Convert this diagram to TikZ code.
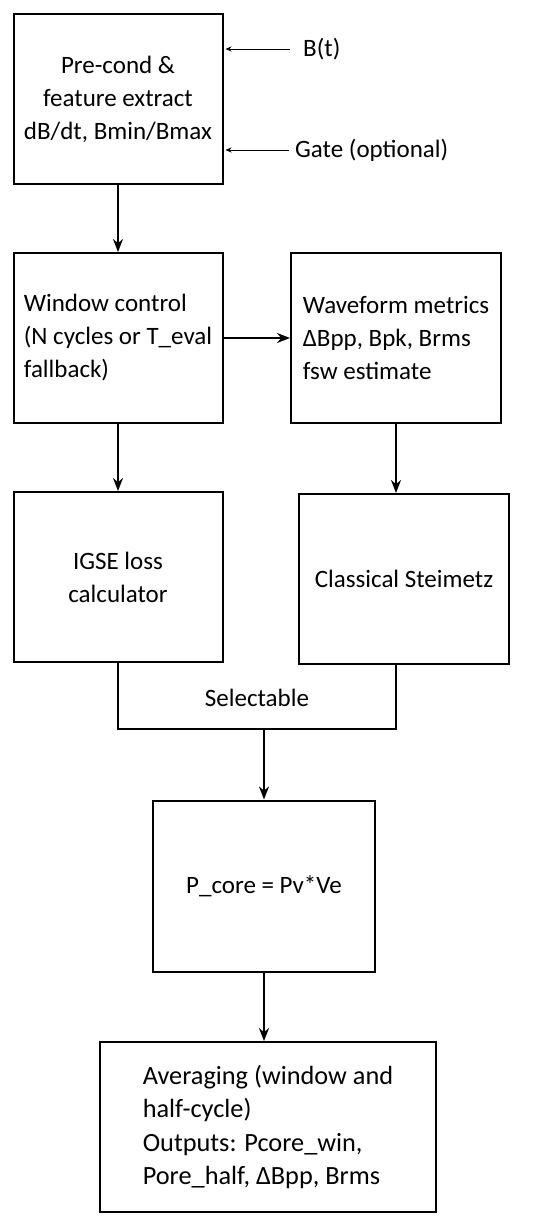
\documentclass[tikz,border=0pt]{standalone}
\usepackage{fontspec}
\setmainfont{Carlito}
\usetikzlibrary{arrows.meta,positioning,calc}

\begin{document}
\begin{tikzpicture}[
	x=1pt, y=-1pt,
	box/.style={rectangle, draw, line width=2pt, align=center, inner sep=0pt, minimum width=209pt, minimum height=170pt, font=\fontsize{25}{33}\selectfont},
	lbl/.style={inner sep=0pt, anchor=west, font=\fontsize{25}{33}\selectfont},
	arr/.style={-{Stealth[length=13pt, width=10pt]}, line width=2pt},
	inarr/.style={-{Stealth[length=6pt, width=5pt]}, line width=0.8pt},
	wire/.style={line width=2pt}
]
\useasboundingbox (0,0) rectangle (550,1228);
\node[box] (pre) at (118,99) {Pre-cond \&\\feature extract\\dB/dt, Bmin/Bmax};
\node[box, align=left] (win) at (118,338) {Window control\\(N cycles or T\_eval\\fallback)};
\node[box, align=left, minimum width=210pt] (wave) at (396,338) {Waveform metrics\\ΔBpp, Bpk, Brms\\fsw estimate};
\node[box] (igse) at (118,577) {IGSE loss\\calculator};
\node[box, minimum width=210pt] (stm) at (404,579) {Classical Steimetz};
\node[box, minimum width=222pt, minimum height=171pt] (pcore) at (264,886) {P\_core = Pv*Ve};
\node[box, align=left, minimum width=336pt, font=\fontsize{26.3}{33.5}\selectfont] (avg) at (268,1127) {Averaging (window and\\half-cycle)\\Outputs: Pcore\_win,\\Pore\_half, ΔBpp, Brms};

% entradas externas
\node[lbl] (bt) at (303,49) {B(t)};
\node[lbl] (gate) at (295,150) {Gate (optional)};
\coordinate (btin) at ($(bt.west)+(-13,0)$);
\coordinate (gatein) at ($(gate.west)+(-6,0)$);
\draw[inarr] (btin) -- ([xshift=2pt]btin -| pre.east);
\draw[inarr] (gatein) -- ([xshift=2pt]gatein -| pre.east);

\draw[arr] (pre) -- (win);
\draw[arr] (win) -- (wave);
\draw[arr] (win) -- (igse);
\draw[arr] (wave.south) -- (wave.south |- stm.north);

% junção das duas saídas de perda
\coordinate (sel) at (264,729);
\draw[wire] (igse.south) |- (sel) -| (wave.south |- stm.south);
\node[lbl, anchor=center] (seltxt) at (257,698) {Selectable};
\draw[arr] (sel) -- (pcore);
\draw[arr] (pcore.south) -- (pcore.south |- avg.north);
\end{tikzpicture}
\end{document}
